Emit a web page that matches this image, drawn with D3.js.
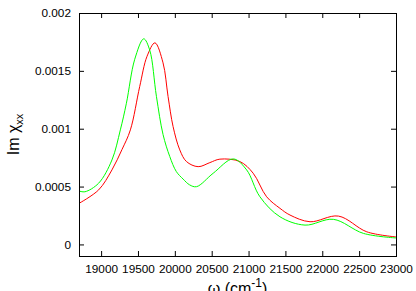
<!DOCTYPE html>
<html>
<head>
<meta charset="utf-8">
<script src="https://cdn.jsdelivr.net/npm/d3@7"></script>
<style>
  body { margin: 0; background: #fff; }
  svg { display: block; font-family: "Liberation Sans", Arial, sans-serif; }
</style>
</head>
<body>
<svg width="416" height="291"></svg>
<script>
// green curve (omega, Im chi_xx)
let greenW = [18700, 18780, 18966, 19147, 19261, 19343, 19456, 19578, 19659, 19750, 19840, 19931, 20020, 20112, 20200, 20294, 20520, 20792, 20974, 21154, 21426, 21766, 22150, 22558, 23000];
let greenV = [0.000462, 0.000455, 0.000529, 0.00073, 0.00099, 0.00122, 0.00160, 0.001777, 0.00168, 0.00128, 0.00095, 0.00076, 0.00063, 0.000565, 0.000515, 0.000499, 0.000615, 0.000739, 0.000644, 0.000412, 0.000239, 0.000167, 0.000217, 0.0000953, 0.000056];

// red curve
let redW = [18700, 18966, 19147, 19283, 19397, 19524, 19623, 19730, 19840, 19908, 19976, 20067, 20158, 20316, 20475, 20611, 20883, 21063, 21245, 21426, 21562, 21834, 22219, 22604, 23000];
let redV = [0.000355, 0.000471, 0.000644, 0.00082, 0.00099, 0.001366, 0.001626, 0.001742, 0.001569, 0.001279, 0.001019, 0.000817, 0.000716, 0.000672, 0.000707, 0.000737, 0.000716, 0.000615, 0.000412, 0.000312, 0.000254, 0.000196, 0.000245, 0.000109, 0.000065];

let xTicks = [19000, 19500, 20000, 20500, 21000, 21500, 22000, 22500, 23000];
let yTicks = [0, 0.0005, 0.001, 0.0015, 0.002];

let svg = d3.select("svg");
let margin = {left: 79, right: 20, top: 13, bottom: 35};
let width = 416, height = 291;

let x = d3.scaleLinear().domain([18700, 23000]).range([margin.left, width - margin.right]);
let y = d3.scaleLinear().domain([-0.0001, 0.002]).range([height - margin.bottom, margin.top]);

let fmtY = d => d === 0 ? "0" : String(d);

//ticks pointing inward on all four sides
svg.append("g")
    .attr("transform", `translate(0,${y.range()[0]})`)
    .call(d3.axisBottom(x).tickValues(xTicks).tickSize(-5).tickPadding(9).tickFormat(d3.format("d")))
    .call(g => g.select(".domain").remove());
svg.append("g")
    .attr("transform", `translate(0,${y.range()[1]})`)
    .call(d3.axisTop(x).tickValues(xTicks).tickSize(-5).tickFormat(""))
    .call(g => g.select(".domain").remove());
svg.append("g")
    .attr("transform", `translate(${x.range()[0]},0)`)
    .call(d3.axisLeft(y).tickValues(yTicks).tickSize(-5).tickPadding(8).tickFormat(fmtY))
    .call(g => g.select(".domain").remove());
svg.append("g")
    .attr("transform", `translate(${x.range()[1]},0)`)
    .call(d3.axisRight(y).tickValues(yTicks).tickSize(-5).tickFormat(""))
    .call(g => g.select(".domain").remove());

svg.selectAll(".tick text").attr("font-size", 11.8).attr("fill", "#000")
    .attr("font-family", "Liberation Sans, Arial, sans-serif");
svg.selectAll(".tick line").attr("stroke", "#000");

let line = d3.line()
    .x(d => x(d[0]))
    .y(d => y(d[1]))
    .curve(d3.curveCatmullRom.alpha(0.5));

let plot = svg.append("g");
plot.append("path")
    .datum(d3.zip(redW, redV))
    .attr("d", line)
    .attr("fill", "none")
    .attr("stroke", "#ff0000")
    .attr("stroke-width", 1);
plot.append("path")
    .datum(d3.zip(greenW, greenV))
    .attr("d", line)
    .attr("fill", "none")
    .attr("stroke", "#00ff00")
    .attr("stroke-width", 1);

//frame
svg.append("rect")
    .attr("x", x.range()[0] + 0.5)
    .attr("y", y.range()[1] + 0.5)
    .attr("width", x.range()[1] - x.range()[0])
    .attr("height", y.range()[0] - y.range()[1])
    .attr("fill", "none")
    .attr("stroke", "#000")
    .attr("stroke-width", 1);

//axis labels
let xl = svg.append("text")
    .attr("x", (x.range()[0] + x.range()[1]) / 2)
    .attr("y", 294)
    .attr("text-anchor", "middle")
    .attr("font-size", 16);
xl.append("tspan").text("ω (cm");
xl.append("tspan").attr("dy", -7).attr("font-size", 12).text("-1");
xl.append("tspan").attr("dy", 7).text(")");

let yl = svg.append("text")
    .attr("transform", `translate(19,${(y.range()[0] + y.range()[1]) / 2}) rotate(-90)`)
    .attr("text-anchor", "middle")
    .attr("font-size", 16);
yl.append("tspan").text("Im χ");
yl.append("tspan").attr("dy", 4).attr("font-size", 11).text("xx");
</script>
</body>
</html>
